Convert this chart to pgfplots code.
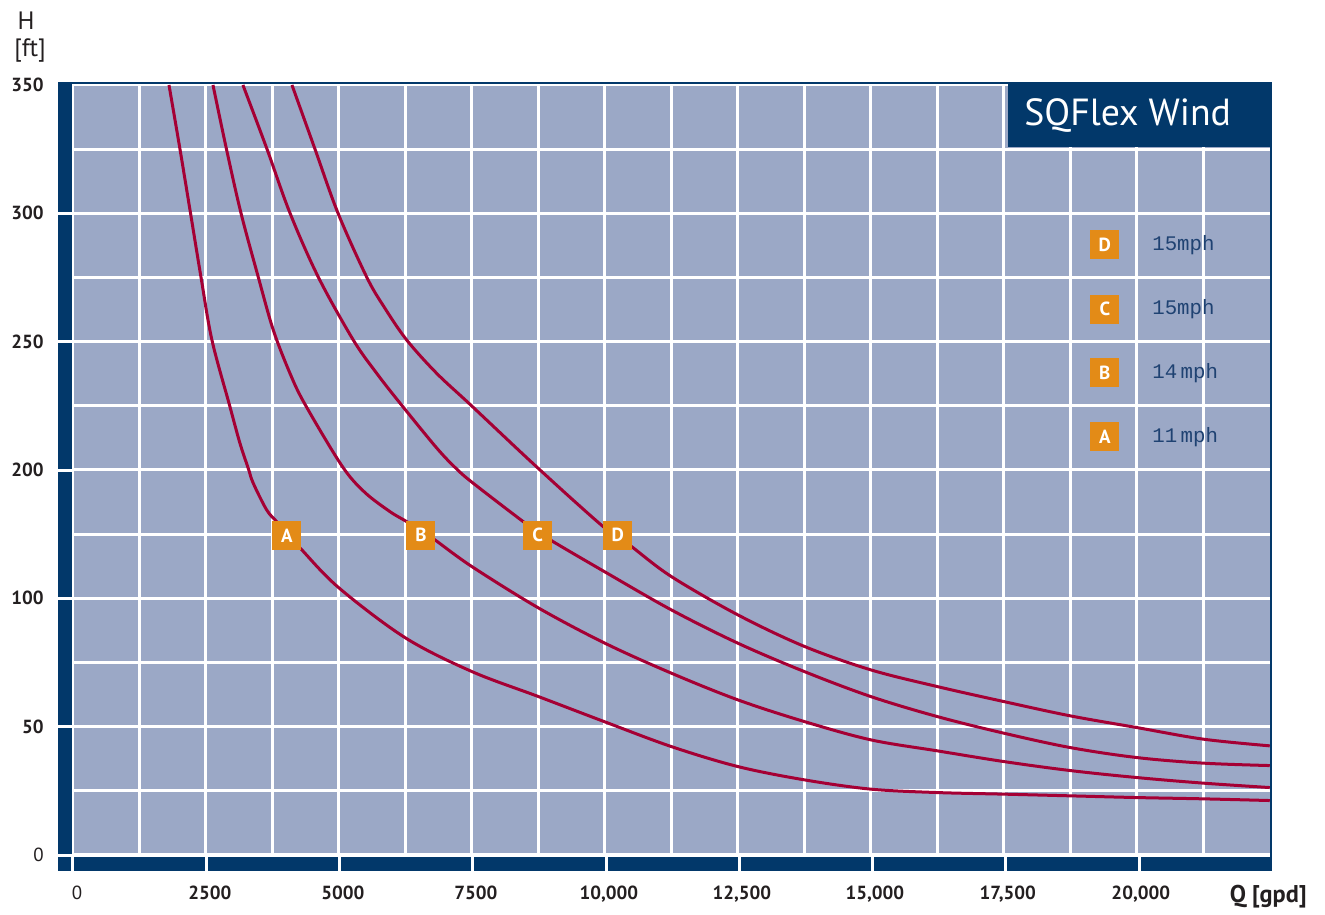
\documentclass[border=0pt]{standalone}
\usepackage{fontspec}
\setmainfont{PT Sans}
\newfontfamily\monof{Liberation Mono}
\usepackage{pgfplots}
\pgfplotsset{compat=1.18}

\definecolor{navyc}{HTML}{02386A}
\definecolor{bgc}{HTML}{9BA8C6}
\definecolor{curvec}{HTML}{A50034}
\definecolor{orangec}{HTML}{E38B17}
\definecolor{legtext}{HTML}{1F4272}
\definecolor{labc}{HTML}{231F20}

% 1 px of the reference = 0.02cm
\tikzset{pxscope/.style={shift={(-1.46cm,17.1cm)}, x=0.02cm, y=-0.02cm}}

\begin{document}
\begin{tikzpicture}
\begin{scope}[pxscope]
\path[use as bounding box] (0,0) rectangle (1325,914);
\end{scope}

\begin{axis}[
  at={(0,0)}, anchor=south west,
  scale only axis, width=23.94cm, height=15.4cm,
  xmin=0, xmax=22500, ymin=0, ymax=300,
  scaled x ticks=false, scaled y ticks=false,
  axis background/.style={fill=bgc},
  axis line style={draw=none},
  tick style={draw=none},
  xtick={0,2500,...,20000},
  xticklabels={\mdseries 0,2500,5000,7500,{10,000},{12,500},{15,000},{17,500},{20,000}},
  minor xtick={1250,3750,...,21250},
  ytick={0,50,...,300},
  yticklabels={\mdseries 0,50,100,200,250,300,350},
  minor ytick={25,75,...,275},
  grid=both,
  major grid style={white, line width=0.06cm},
  minor grid style={white, line width=0.06cm},
  tick label style={font=\fontsize{10.8}{13}\selectfont\bfseries, text=labc, inner sep=0pt},
  xticklabel style={anchor=base, yshift=-0.89cm, xshift=0.08cm},
  yticklabel style={anchor=east, xshift=-0.58cm},
  clip mode=individual,
  every axis plot/.append style={line width=0.06cm},
]
% A  11 mph
\addplot[curvec, smooth, tension=0.55] coordinates {
  (1805,300) (2011,275.06) (2209,250.13) (2406,225.19) (2612,200.65) (2942,175.32)
  (3139,160.40) (3299,150.39) (3389,144.82) (3641,134.42) (3829,129.86) (4056,124.56)
  (4286,119.22) (5000,104.03) (6250,84.55) (7500,71.42) (8750,61.68) (10000,51.82)
  (11250,42.19) (12500,34.40) (13750,29.22) (15000,25.60) (16250,24.27) (17500,23.65)
  (18750,22.99) (20000,22.32) (21250,21.82) (22500,21.16)
};
% B  14 mph
\addplot[curvec, smooth, tension=0.55] coordinates {
  (2632,300) (2885,275.06) (3158,250.13) (3483,225.19) (3765,204.55) (4079,187.67)
  (4361,175.60) (5057,151.56) (5483,141.31) (5959,133.75) (6273,129.86)
  (6541,126.23) (6805,122.73) (7500,112.32) (8750,96.23) (10000,82.48) (11250,70.79)
  (12500,60.39) (13750,51.94) (15000,44.81) (16250,40.52) (17500,36.35) (18750,32.84)
  (20000,30.12) (21250,27.94) (22500,26.22)
};
% C  15 mph
\addplot[curvec, smooth, tension=0.55] coordinates {
  (3195,300) (3647,275.06) (4079,250.13) (4611,225.19) (5269,200.65)
  (5709,187.67) (6165,175.60) (6842,158.45) (7212,150.39) (7524,144.82) (8464,129.86)
  (8731,126.23) (9004,122.34) (10000,110.26) (11250,95.45) (12500,82.48) (13750,71.42)
  (15000,61.68) (16250,53.88) (17500,47.41) (18750,41.80) (20000,37.91) (21250,35.73)
  (22500,34.79)
};
% D  15 mph
\addplot[curvec, smooth, tension=0.55] coordinates {
  (4117,300) (4549,275.06) (4981,250.13) (5521,225.19) (5846,213.60) (6273,200.65)
  (6836,187.67) (7462,175.60) (8340,158.45) (8759,150.39) (9399,138.31) (9968,127.91)
  (10235,124.01) (10502,120.12) (11250,108.43) (12500,93.51) (13750,81.23) (15000,72.08)
  (16250,65.57) (17500,59.73) (18750,54.16) (20000,49.60) (21250,45.08) (22500,42.47)
};
% letter boxes on the curves and in the key
\addplot[only marks, color=orangec, mark=square*, mark size=0.28cm,
  mark options={fill=orangec, draw=orangec, line width=0pt},
  point meta=explicit symbolic, nodes near coords,
  nodes near coords style={anchor=center, text=white, inner sep=0pt,
    font=\fontsize{10.8}{13}\selectfont\bfseries}] coordinates {
  (4019,124.5) [A] (6541,124.5) [B] (8737,124.5) [C] (10240,124.5) [D]
  (19399,237.7) [D] (19399,212.7) [C] (19399,187.9) [B] (19399,163.0) [A]
};
\end{axis}

\begin{scope}[pxscope]
% navy frame pieces
\fill[navyc] (58,82) rectangle (72,871);
\fill[navyc] (58,857) rectangle (1272,871);
\fill[navyc] (1269.5,82) rectangle (1272,871);
\fill[navyc] (72,82) rectangle (1272,84.5);
% white gaps where the major grid lines cross the bars
\foreach \gx in {73,206,339,472,606,739,872,1005,1139}
  \fill[white] (\gx-1.5,855) rectangle (\gx+1.5,871.5);
\foreach \gy in {855,726.7,598.3,470,341.7,213.3}
  \fill[white] (57.5,\gy-1.5) rectangle (73,\gy+1.5);
% title box
\fill[navyc] (1007.5,82) rectangle (1272,147.5);
\node[anchor=west, text=white, inner sep=0pt, font=\fontsize{21.5}{25}\selectfont]
  at (1024,115.5) {SQFlex Wind};
% key texts
\foreach \yy/\tt in {245/15mph,309/15mph,373/14\,mph,437/11\,mph}
  \node[anchor=west, text=legtext, inner sep=0pt, font=\monof\fontsize{11.8}{14}\selectfont]
    at (1152,\yy) {\tt};
% axis titles
\node[text=labc, inner sep=0pt, font=\fontsize{14.3}{17}\selectfont] at (26,20.5) {H};
\node[text=labc, inner sep=0pt, font=\fontsize{14.3}{17}\selectfont] at (30,51) {[ft]};
\node[anchor=base east, text=labc, inner sep=0pt, font=\fontsize{13.8}{16}\selectfont\bfseries]
  at (1307,902) {Q [gpd]};
\end{scope}
\end{tikzpicture}
\end{document}
